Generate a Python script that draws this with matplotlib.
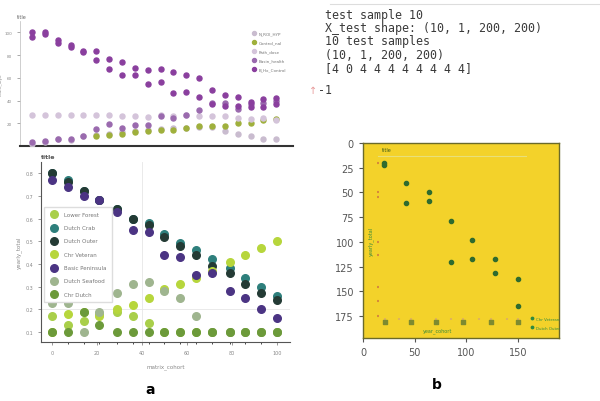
import numpy as np
import matplotlib.pyplot as plt

# ---- panel a, top: 20 columns
top_x = [1, 2, 3, 4, 5, 6, 7, 8, 9, 10, 11, 12, 13, 14, 15, 16, 17, 18, 19, 20]
top_names = ["N_ROI_HYP", "Control_nal", "Path_dose", "Basin_health", "B_Hx_Control"]
top_gray = [2, 3.5, 6, 5.5, 8.5, 10, 11, 12, 13, 14, 15, 15.5, 16, 17, 17, 13, 11, 9, 6.5, 6.5]
top_green = [np.nan, np.nan, np.nan, np.nan, np.nan, 8.5, 9.5, 10.5, 12, 13, 14, 14.5, 16, 17.5, 17.5, 18, 20, 20.5, 23, 24]
top_flat = [27.5, 27.5, 27.5, 27.5, 27.5, 27.5, 27, 26.5, 26, 25.5, 27, 26, 27, 26, 26.5, 26, 25, 24, 25, 23]
top_low = [3.5, 4.5, 6.5, 6.5, 9, 15, 19, 16, 18.5, 18.5, 26.5, 25, 27, 31.5, 37.5, 37.5, 32.5, 37, 38, 40]
top_mid = [95.5, 98.5, 90.5, 87.5, 83, 76, 67.5, 62.5, 62.5, 55, 56, 47, 47.5, 43, 37, 35.5, 35.5, 34.5, 34.5, 37]
top_high = [100, 100, 93.5, 89, 84, 84, 77, 73.5, 68.5, 67, 67.5, 65.5, 62.5, 59.5, 49, 45, 43, 39, 41, 42]
top_colors = ["#c9bccf", "#9fb03c", "#d4c4da", "#9a6aae", "#8a3f9e"]

# ---- panel a, bottom: 15 columns
bot_x = [0, 7, 14, 21, 29, 36, 43, 50, 57, 64, 71, 79, 86, 93, 100]
bot_names = ["Lower Forest", "Dutch Crab", "Dutch Outer", "Chr Veteran",
             "Basic Peninsula", "Dutch Seafood", "Chr Dutch"]
lower_forest = [0.17, 0.13, 0.15, 0.18, 0.19, 0.17, 0.14, 0.10, 0.10, 0.10, 0.10, 0.10, 0.10, 0.10, 0.10]
dutch_crab = [0.80, 0.77, 0.72, 0.68, 0.64, 0.60, 0.58, 0.53, 0.49, 0.46, 0.42, 0.38, 0.34, 0.30, 0.26]
dutch_outer = [0.80, 0.76, 0.72, 0.68, 0.64, 0.60, 0.57, 0.52, 0.48, 0.44, 0.39, 0.36, 0.31, 0.27, 0.24]
chr_veteran = [0.10, 0.18, 0.19, 0.17, 0.20, 0.22, 0.25, 0.29, 0.31, 0.34, 0.37, 0.41, 0.44, 0.47, 0.50]
basic_pen = [0.77, 0.74, 0.70, 0.68, 0.63, 0.55, 0.54, 0.44, 0.43, 0.35, 0.36, 0.28, 0.25, 0.20, 0.16]
dutch_seafood = [0.23, 0.23, 0.10, 0.19, 0.27, 0.31, 0.32, 0.28, 0.25, 0.17, 0.10, 0.10, 0.10, 0.10, 0.10]
chr_dutch = [0.10, 0.10, 0.19, 0.13, 0.10, 0.10, 0.10, 0.10, 0.10, 0.10, 0.10, 0.10, 0.10, 0.10, 0.10]
bot_series = [lower_forest, dutch_crab, dutch_outer, chr_veteran, basic_pen, dutch_seafood, chr_dutch]
bot_colors = ["#a9cf4a", "#2e7f7c", "#243b35", "#b7d63c", "#4b3483", "#9fb58f", "#6c9a3a"]

# ---- panel b
b_x = [20, 20, 42, 42, 64, 64, 85, 85, 106, 106, 128, 128, 150, 150]
b_y = [20, 22, 40, 61, 50, 59, 79, 120, 98, 117, 117, 131, 137, 165]
b_row_x = [21, 47, 71, 97, 124, 150]
b_row_y = [181, 181, 181, 181, 181, 181]
b_axis_y = [20, 50, 55, 100, 113, 145, 160, 175]

console = ["test sample 10", "X_test shape: (10, 1, 200, 200)", "10 test samples",
           "(10, 1, 200, 200)", "[4 0 4 4 4 4 4 4 4 4]"]

W, H = 600, 402
fig = plt.figure(figsize=(6, 4.02), dpi=100)


def rect(l, t, r, b):
    return [l / W, (H - b) / H, (r - l) / W, (b - t) / H]


# top-left
ax1 = fig.add_axes(rect(20, 22, 293, 147))
top_series = [top_gray, top_green, top_flat, top_low, top_mid]
for s, c, n in zip(top_series, top_colors, top_names):
    ax1.scatter(top_x, s, s=13, color=c, label=n, zorder=3)
ax1.scatter(top_x, top_high, s=13, color=top_colors[4], zorder=3)
ax1.set_xlim(0.07, 21.3)
ax1.set_ylim(0, 110)
ax1.set_yticks([20, 40, 60, 80, 100])
ax1.tick_params(axis='y', labelsize=3, colors="#888", length=2, width=0.5)
ax1.set_xticks([])
for sp in ["top", "right"]:
    ax1.spines[sp].set_visible(False)
ax1.spines["left"].set_color("#bbb")
ax1.spines["left"].set_linewidth(0.5)
ax1.spines["bottom"].set_color("#333")
ax1.spines["bottom"].set_linewidth(1.5)
ax1.set_ylabel("count_lbyo", fontsize=3, color="#888", labelpad=1)
ax1.set_title("title", fontsize=3.5, color="#666", loc="left", x=-0.01, pad=2)
ax1.legend(fontsize=3, frameon=False, loc="upper right", bbox_to_anchor=(0.99, 0.95),
           labelspacing=1.2, handletextpad=0.3, markerscale=0.8, labelcolor="#777")

# bottom-left
ax2 = fig.add_axes(rect(41, 163, 290, 343))
for s, c, n in zip(bot_series, bot_colors, bot_names):
    ax2.scatter(bot_x, s, s=30, color=c, label=n, zorder=3)
ax2.axvline(40, color="#e6e6e6", lw=0.6, zorder=0)
ax2.axhline(0.2, color="#e6e6e6", lw=0.6, zorder=0)
ax2.set_xlim(-4.9, 105.8)
ax2.set_ylim(0.056, 0.849)
ax2.set_xticks([0, 20, 40, 60, 80, 100])
ax2.set_xticks(bot_x, minor=True)
ax2.set_yticks([0.1, 0.2, 0.3, 0.4, 0.5, 0.6, 0.7, 0.8])
ax2.tick_params(labelsize=3.5, colors="#888", length=2, width=0.6)
ax2.tick_params(which="minor", length=1.5, width=0.5)
for sp in ["top", "right"]:
    ax2.spines[sp].set_visible(False)
ax2.spines["left"].set_color("#555")
ax2.spines["bottom"].set_color("#555")
ax2.set_xlabel("matrix_cohort", fontsize=4, color="#888", labelpad=6)
ax2.set_ylabel("yearly_total", fontsize=4, color="#888", labelpad=3)
ax2.set_title("title", fontsize=4.5, color="#555", fontweight="bold", loc="left", pad=3)
ax2.legend(fontsize=4, loc="upper left", bbox_to_anchor=(0.0, 0.767), labelspacing=1.5,
           handletextpad=0.8, borderpad=0.9, fancybox=False, edgecolor="#ddd",
           framealpha=1, labelcolor="#777")

# right plot
ax3 = fig.add_axes(rect(363, 144, 559, 339))
ax3.set_facecolor("#f3d22a")
ax3.scatter(b_x, b_y, s=9, color="#2f6b2f", zorder=3)
ax3.scatter(b_row_x, b_row_y, s=6, marker="s", color="#7d8a30", zorder=3)
ax3.scatter([15] * len(b_axis_y), b_axis_y, s=4, marker="_", color="#d68a3a", zorder=3)
ax3.scatter(b_row_x + [35, 85, 112, 140], [178] * 10, s=3, marker="|", color="#e0b35a", zorder=2)
ax3.plot([15, 158], [13, 13], color="#e8e07a", lw=0.8)
ax3.text(18, 8, "title", fontsize=3.5, color="#3a5a1a")
ax3.text(72, 190, "year_cohort", fontsize=3.5, color="#3a8a3a", ha="center")
ax3.text(5, 98, "yearly_total", fontsize=3.5, color="#3a8a3a", rotation=90, va="center")
ax3.scatter([164, 164], [177, 186], s=3, color="#2f8a3f")
ax3.text(168, 178, "Chr Veteran", fontsize=2.8, color="#2f8a3f", va="center")
ax3.text(168, 187, "Dutch Outer", fontsize=2.8, color="#2f8a3f", va="center")
ax3.set_xlim(0, 190)
ax3.set_ylim(197, 0)
ax3.set_xticks([0, 50, 100, 150])
ax3.set_yticks([0, 25, 50, 75, 100, 125, 150, 175])
ax3.tick_params(labelsize=7, colors="#555", length=3)
for sp in ax3.spines.values():
    sp.set_color("#6a6a2a")
    sp.set_linewidth(1.0)

# console text
fig.add_artist(plt.Line2D([330 / W, 1], [1 - 5 / H, 1 - 5 / H], color="#ddd", lw=0.8))
for i, line in enumerate(console):
    fig.text(325 / W, 1 - (15 + 13.5 * i) / H, line, family="DejaVu Sans Mono",
             fontsize=8.4, color="#3a3a3a", va="center")
fig.text(309 / W, 1 - 91 / H, "\u2191", fontsize=7, color="#e89a9a", va="center")
fig.text(318 / W, 1 - 91 / H, "-1", family="DejaVu Sans Mono", fontsize=8.4,
         color="#3a3a3a", va="center")

fig.text(150 / W, 1 - 390 / H, "a", fontsize=10, fontweight="bold", ha="center", va="center")
fig.text(437 / W, 1 - 385 / H, "b", fontsize=10, fontweight="bold", ha="center", va="center")

fig.savefig("out.png", dpi=100)
